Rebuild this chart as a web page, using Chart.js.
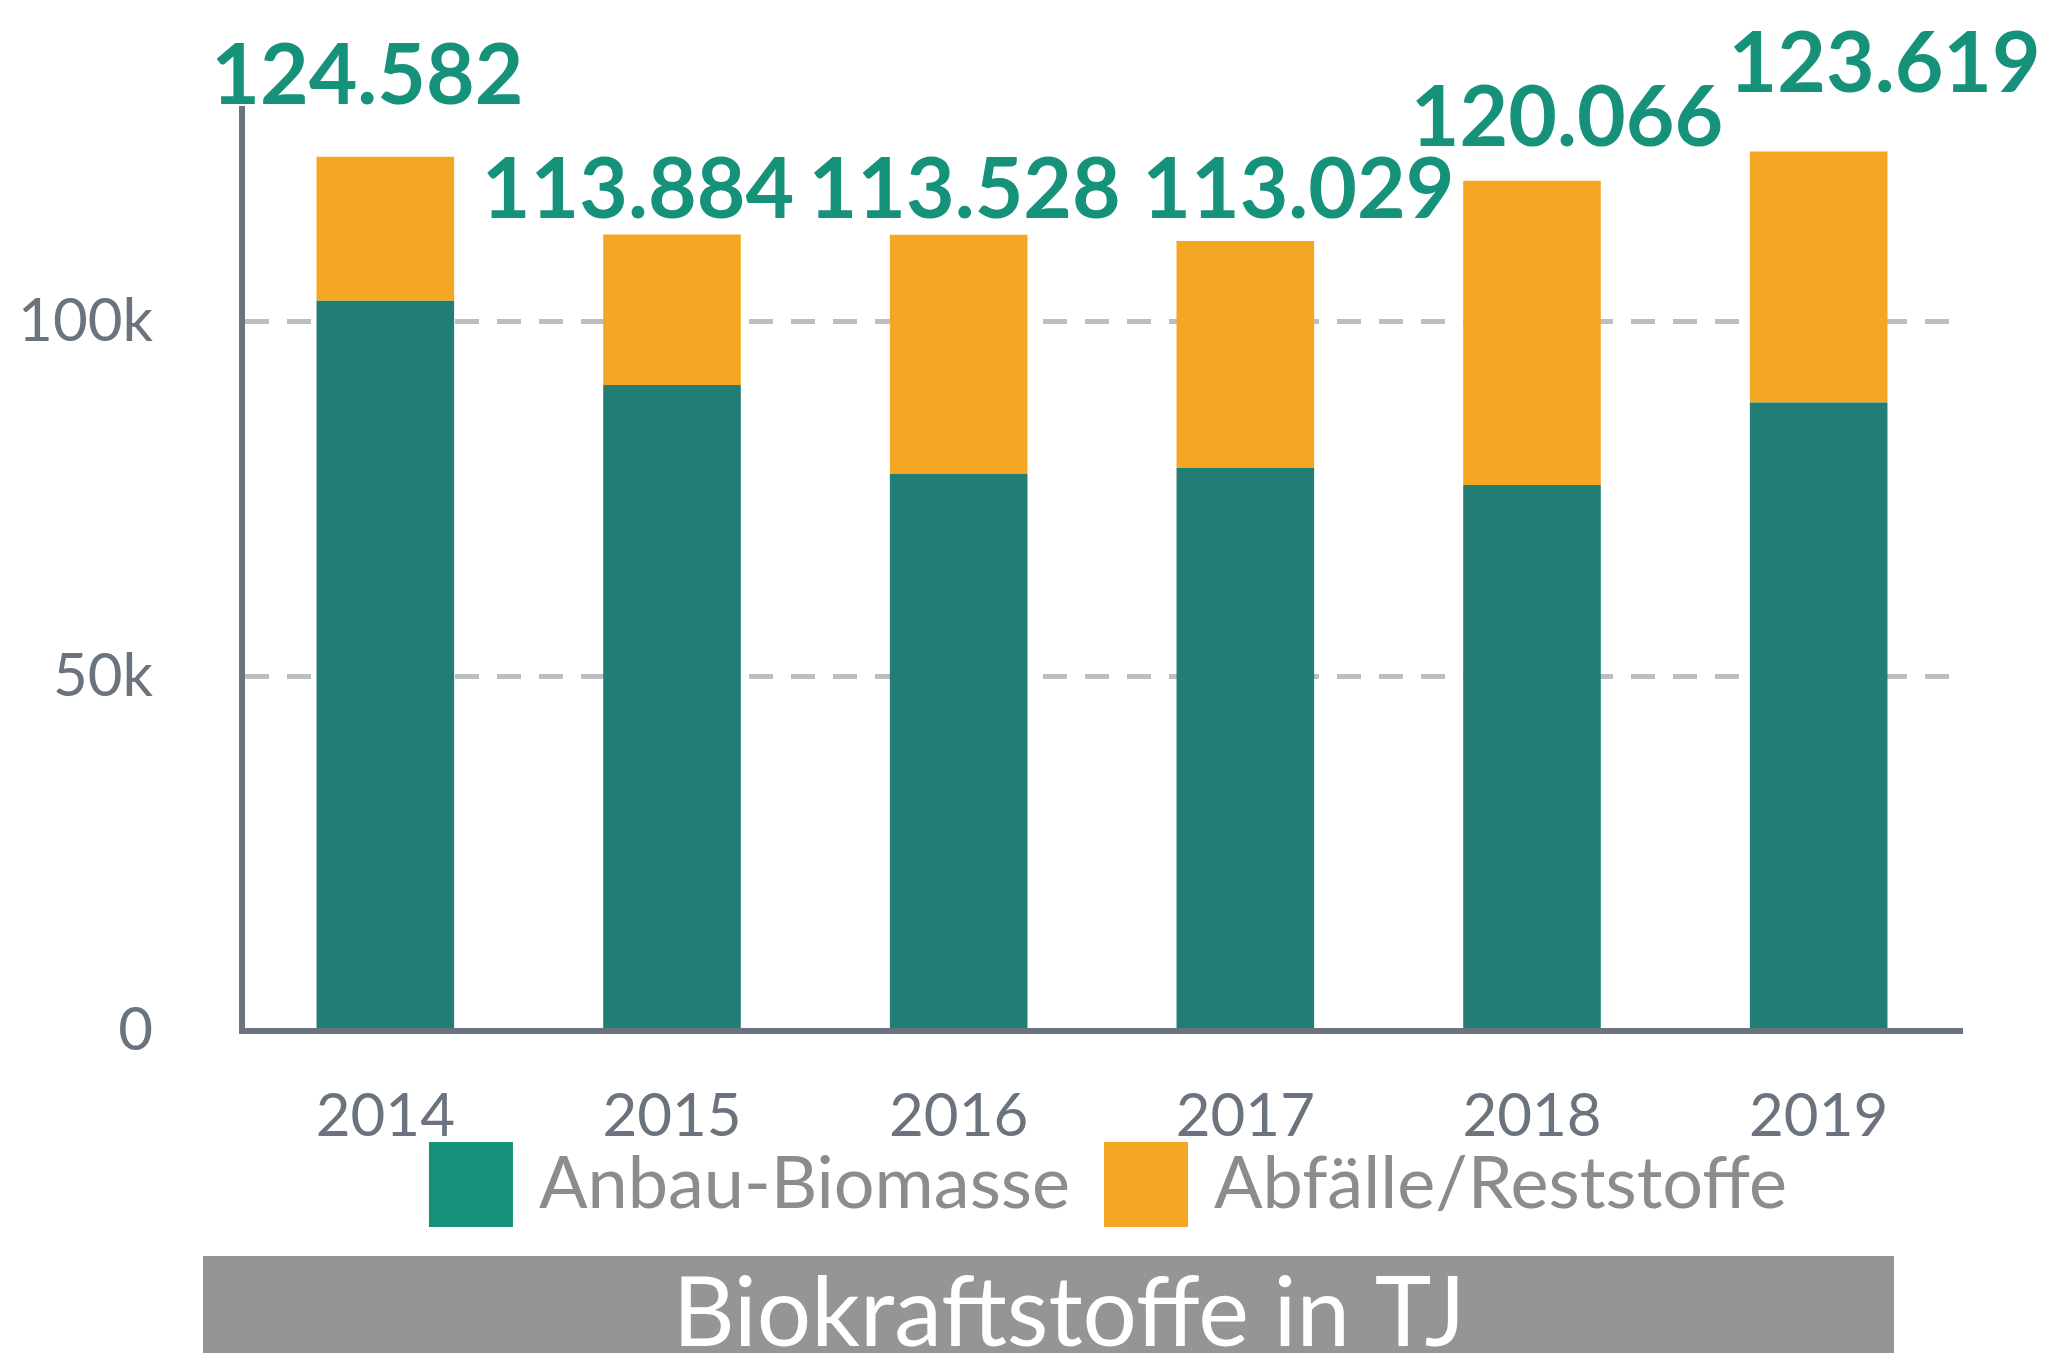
<!DOCTYPE html>
<html>
<head>
<meta charset="utf-8">
<script src="https://cdn.jsdelivr.net/npm/chart.js@4.4.1/dist/chart.umd.min.js"></script>
<style>
  html, body { margin: 0; padding: 0; background: #fff; }
  #wrap { width: 2045px; height: 1353px; position: relative; }
</style>
</head>
<body>
<div id="wrap"><canvas id="chart"></canvas></div>
<script>
// data (TJ)
const years = ['2014', '2015', '2016', '2017', '2018', '2019'];
const anbauBiomasse = [102960, 91100, 78560, 79400, 77000, 88600];
const abfaelleReststoffe = [20300, 21200, 33700, 32000, 42900, 35400];
const totals = [124582, 113884, 113528, 113029, 120066, 123619];
const yTicks = [0, 50000, 100000];
const seriesNames = ['Anbau-Biomasse', 'Abfälle/Reststoffe'];
const chartTitle = 'Biokraftstoffe in TJ';

// the total labels were placed by hand in the original, offset from the top of each stack
const labelNudge = [[-18, -53], [-34, -17], [6, -17], [53, -23], [35, -35], [66, -60]];

const GREEN = '#227e74', GREEN_LABEL = '#16917a', ORANGE = '#f5a623';
const AXIS = '#6b747e', GRID = '#bbbec2', LEGEND_TEXT = '#8c8c8c', BAR_GREY = '#959595';
const FONT = 'Lato, "Open Sans", sans-serif';

const fmtDE = v => String(v).replace(/\B(?=(\d{3})+(?!\d))/g, '.');

// totals above the stacks
const totalLabels = {
    id: 'totalLabels',
    afterDatasetsDraw(chart) {
        const ctx = chart.ctx;
        const meta = chart.getDatasetMeta(chart.data.datasets.length - 1);
        ctx.save();
        ctx.font = `bold 84px ${FONT}`;
        ctx.fillStyle = GREEN_LABEL;
        ctx.textAlign = 'center';
        ctx.textBaseline = 'alphabetic';
        meta.data.forEach((bar, i) => {
            const [dx, dy] = labelNudge[i];
            ctx.fillText(fmtDE(totals[i]), bar.x + dx, bar.y + dy);
        });
        ctx.restore();
    }
};

// legend row + grey title bar under the chart
const legendAndTitle = {
    id: 'legendAndTitle',
    afterDraw(chart) {
        const ctx = chart.ctx;
        ctx.save();
        ctx.font = `72px ${FONT}`;
        const box = 84, gap = 26, itemGap = 34;
        const colors = [GREEN_LABEL, ORANGE];
        const widths = seriesNames.map(n => box + gap + ctx.measureText(n).width);
        const total = widths.reduce((a, b) => a + b, 0) + itemGap * (widths.length - 1);
        let x = 1108 - total / 2;
        seriesNames.forEach((name, i) => {
            ctx.fillStyle = colors[i];
            ctx.fillRect(x, 1142, box, 85);
            ctx.fillStyle = LEGEND_TEXT;
            ctx.textBaseline = 'alphabetic';
            ctx.fillText(name, x + box + gap, 1208);
            x += widths[i] + itemGap;
        });

        ctx.fillStyle = BAR_GREY;
        ctx.fillRect(203, 1256, 1691, 120);
        ctx.fillStyle = '#fff';
        ctx.font = `96px ${FONT}`;
        ctx.textAlign = 'center';
        ctx.fillText(chartTitle, 1069, 1346);
        ctx.restore();
    }
};

new Chart(document.getElementById('chart'), {
    type: 'bar',
    data: {
        labels: years,
        datasets: [
            { label: seriesNames[0], data: anbauBiomasse, backgroundColor: GREEN },
            { label: seriesNames[1], data: abfaelleReststoffe, backgroundColor: ORANGE }
        ]
    },
    options: {
        responsive: true,
        maintainAspectRatio: false,
        animation: false,
        layout: { padding: { top: 109, right: 83, bottom: 0, left: 0 } },
        datasets: { bar: { categoryPercentage: 1, barPercentage: 0.48 } },
        plugins: { legend: { display: false }, tooltip: { enabled: false } },
        scales: {
            x: {
                stacked: true,
                grid: { display: false, drawTicks: false },
                border: { display: true, color: AXIS, width: 6, z: 1 },
                ticks: { color: AXIS, font: { family: FONT, size: 60 }, padding: 50 },
                afterFit: s => { s.height = 1353 - 1031; }
            },
            y: {
                stacked: true,
                min: 0,
                max: 130000,
                afterBuildTicks: s => { s.ticks = yTicks.map(v => ({ value: v })); },
                grid: {
                    drawTicks: false,
                    lineWidth: 5,
                    color: c => (c.tick && c.tick.value === 0) ? 'rgba(0,0,0,0)' : GRID
                },
                border: { display: true, color: AXIS, width: 6, dash: [24, 18] },
                ticks: {
                    color: AXIS,
                    font: { family: FONT, size: 60 },
                    padding: 89,
                    callback: v => v === 0 ? '0' : (v / 1000) + 'k'
                },
                // tick padding would otherwise also push the plot area down
                afterFit: s => { s.width = 242; s.paddingTop = 36; s.paddingBottom = 36; }
            }
        }
    },
    plugins: [totalLabels, legendAndTitle]
});
</script>
</body>
</html>
